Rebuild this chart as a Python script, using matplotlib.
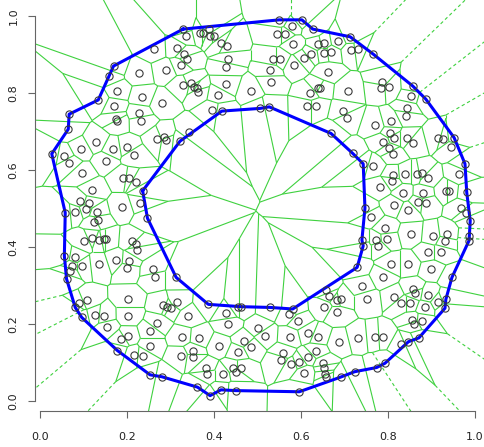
import numpy as np
import matplotlib
matplotlib.use("Agg")
import matplotlib.pyplot as plt
import matplotlib.tri as mtri
from matplotlib.collections import LineCollection

# Outer boundary points (blue polygon, closed)
outer_x = [0.329, 0.550, 0.602, 0.627, 0.713, 0.766, 0.857, 0.887, 0.952, 0.977,
           0.981, 0.989, 0.987, 0.986, 0.947, 0.933, 0.931, 0.871, 0.847, 0.793,
           0.774, 0.723, 0.691, 0.596, 0.450, 0.416, 0.391, 0.362, 0.280, 0.253,
           0.178, 0.096, 0.081, 0.061, 0.056, 0.058, 0.027, 0.065, 0.067, 0.134,
           0.169]
outer_y = [0.966, 0.990, 0.990, 0.966, 0.946, 0.901, 0.818, 0.784, 0.684, 0.616,
           0.542, 0.468, 0.429, 0.416, 0.321, 0.264, 0.241, 0.164, 0.154, 0.098,
           0.087, 0.076, 0.062, 0.024, 0.027, 0.029, 0.014, 0.036, 0.063, 0.068,
           0.131, 0.217, 0.243, 0.317, 0.377, 0.489, 0.642, 0.706, 0.745, 0.782,
           0.870]

# Inner boundary points (blue polygon, closed)
inner_x = [0.236, 0.247, 0.313, 0.387, 0.462, 0.529, 0.581, 0.729, 0.743, 0.740,
           0.747, 0.743, 0.719, 0.669, 0.527, 0.506, 0.418, 0.322]
inner_y = [0.546, 0.475, 0.321, 0.251, 0.245, 0.243, 0.239, 0.347, 0.403, 0.418,
           0.501, 0.616, 0.643, 0.695, 0.764, 0.760, 0.753, 0.675]

# Remaining points
pts_x = [0.159, 0.228, 0.178, 0.235, 0.171, 0.228, 0.175, 0.178, 0.232, 0.128,
         0.335, 0.368, 0.375, 0.388, 0.391, 0.400, 0.263, 0.314, 0.332, 0.337,
         0.416, 0.429, 0.433, 0.428, 0.323, 0.289, 0.329, 0.347, 0.355, 0.360,
         0.363, 0.427, 0.410, 0.485, 0.280, 0.396, 0.270, 0.286, 0.290, 0.343,
         0.580, 0.544, 0.563, 0.582, 0.638, 0.653, 0.685, 0.653, 0.669, 0.623,
         0.607, 0.715, 0.732, 0.535, 0.552, 0.585, 0.529, 0.661, 0.530, 0.640,
         0.644, 0.621, 0.707, 0.613, 0.634, 0.697, 0.706,
         0.786, 0.783, 0.803, 0.852, 0.844, 0.841, 0.807, 0.771, 0.805, 0.814,
         0.789, 0.843, 0.858, 0.914, 0.926,
         0.056, 0.067, 0.094, 0.167, 0.201, 0.215, 0.151, 0.096, 0.190, 0.205,
         0.221, 0.120, 0.092, 0.113, 0.105, 0.081, 0.130, 0.189, 0.230, 0.125,
         0.134, 0.102, 0.120, 0.136, 0.147, 0.152, 0.211, 0.221, 0.224, 0.081,
         0.073, 0.069, 0.097, 0.136, 0.174, 0.205, 0.201,
         0.259, 0.264,
         0.803, 0.944, 0.811, 0.766, 0.812, 0.810, 0.839, 0.866, 0.878, 0.891,
         0.964, 0.782, 0.835, 0.880, 0.933, 0.940, 0.814, 0.870, 0.887, 0.847,
         0.760, 0.967, 0.979, 0.793, 0.853, 0.903, 0.935, 0.931, 0.772, 0.797,
         0.778, 0.891, 0.922, 0.807, 0.847, 0.900, 0.788,
         0.090, 0.109, 0.126, 0.147, 0.155, 0.203, 0.203, 0.186, 0.202, 0.215,
         0.236,
         0.282, 0.293, 0.301, 0.314, 0.428, 0.433, 0.341, 0.270, 0.253, 0.326,
         0.366, 0.253, 0.412, 0.469, 0.485, 0.455, 0.352, 0.352, 0.324, 0.381,
         0.383, 0.420, 0.444, 0.461, 0.451, 0.455,
         0.740, 0.658, 0.665, 0.682, 0.692, 0.653, 0.682, 0.573, 0.594, 0.502,
         0.517, 0.575, 0.615, 0.640, 0.687, 0.732, 0.635, 0.559, 0.553, 0.615,
         0.596, 0.577, 0.651, 0.653, 0.608, 0.655, 0.658,
         0.752, 0.858, 0.862, 0.893, 0.814, 0.830, 0.851, 0.885, 0.916, 0.856,
         0.860, 0.879, 0.770, 0.788, 0.829]
pts_y = [0.845, 0.851, 0.805, 0.790, 0.766, 0.747, 0.732, 0.727, 0.728, 0.672,
         0.948, 0.955, 0.955, 0.966, 0.949, 0.949, 0.914, 0.916, 0.901, 0.888,
         0.929, 0.923, 0.888, 0.868, 0.873, 0.860, 0.820, 0.827, 0.815, 0.812,
         0.803, 0.823, 0.795, 0.806, 0.774, 0.756, 0.681, 0.687, 0.678, 0.700,
         0.974, 0.953, 0.953, 0.927, 0.927, 0.930, 0.935, 0.905, 0.907, 0.901,
         0.890, 0.912, 0.914, 0.888, 0.888, 0.873, 0.860, 0.855, 0.828, 0.814,
         0.812, 0.799, 0.806, 0.766, 0.766, 0.753, 0.736,
         0.829, 0.814, 0.815, 0.793, 0.760, 0.741, 0.726, 0.717, 0.697, 0.682,
         0.674, 0.682, 0.671, 0.684, 0.681,
         0.637, 0.619, 0.655, 0.654, 0.659, 0.639, 0.624, 0.591, 0.580, 0.578,
         0.570, 0.548, 0.520, 0.514, 0.498, 0.491, 0.490, 0.503, 0.515, 0.466,
         0.470, 0.416, 0.423, 0.418, 0.420, 0.420, 0.416, 0.407, 0.392, 0.373,
         0.351, 0.338, 0.351, 0.355, 0.366, 0.364, 0.345,
         0.342, 0.321,
         0.656, 0.659, 0.642, 0.610, 0.587, 0.572, 0.589, 0.589, 0.591, 0.580,
         0.589, 0.555, 0.541, 0.540, 0.546, 0.546, 0.509, 0.516, 0.514, 0.496,
         0.479, 0.502, 0.489, 0.450, 0.433, 0.429, 0.433, 0.416, 0.418, 0.420,
         0.403, 0.386, 0.386, 0.356, 0.356, 0.343, 0.322,
         0.255, 0.262, 0.223, 0.221, 0.191, 0.264, 0.222, 0.160, 0.169, 0.120,
         0.118,
         0.249, 0.245, 0.241, 0.256, 0.228, 0.200, 0.221, 0.202, 0.182, 0.167,
         0.164, 0.144, 0.144, 0.157, 0.141, 0.127, 0.130, 0.113, 0.117, 0.085,
         0.070, 0.070, 0.087, 0.087, 0.075, 0.245,
         0.300, 0.288, 0.273, 0.262, 0.264, 0.245, 0.230, 0.225, 0.208, 0.190,
         0.170, 0.167, 0.176, 0.167, 0.153, 0.163, 0.130, 0.124, 0.107, 0.113,
         0.101, 0.095, 0.098, 0.087, 0.074, 0.069, 0.063,
         0.264, 0.290, 0.280, 0.275, 0.271, 0.254, 0.254, 0.243, 0.258, 0.210,
         0.199, 0.208, 0.166, 0.167, 0.147]

x_ticks = [0.0, 0.2, 0.4, 0.6, 0.8, 1.0]
y_ticks = [0.0, 0.2, 0.4, 0.6, 0.8, 1.0]
tick_labels = ["0.0", "0.2", "0.4", "0.6", "0.8", "1.0"]

# ---- Voronoi from Delaunay ----
X = np.array(outer_x + inner_x + pts_x)
Y = np.array(outer_y + inner_y + pts_y)
tri = mtri.Triangulation(X, Y)
T = tri.triangles
N = tri.neighbors
P = np.column_stack([X, Y])
A, B, C = P[T[:, 0]], P[T[:, 1]], P[T[:, 2]]
d = 2 * (A[:, 0] * (B[:, 1] - C[:, 1]) + B[:, 0] * (C[:, 1] - A[:, 1]) + C[:, 0] * (A[:, 1] - B[:, 1]))
a2, b2, c2 = (A ** 2).sum(1), (B ** 2).sum(1), (C ** 2).sum(1)
ux = (a2 * (B[:, 1] - C[:, 1]) + b2 * (C[:, 1] - A[:, 1]) + c2 * (A[:, 1] - B[:, 1])) / d
uy = (a2 * (C[:, 0] - B[:, 0]) + b2 * (A[:, 0] - C[:, 0]) + c2 * (B[:, 0] - A[:, 0])) / d
CC = np.column_stack([ux, uy])

solid, dashed = [], []
for t in range(len(T)):
    for j in range(3):
        nb = N[t, j]
        if nb > t:
            solid.append([CC[t], CC[nb]])
        elif nb == -1:
            a = P[T[t, j]]
            b = P[T[t, (j + 1) % 3]]
            c = P[T[t, (j + 2) % 3]]
            e = b - a
            n = np.array([e[1], -e[0]])
            if np.dot(n, c - a) > 0:
                n = -n
            n = n / np.hypot(*n)
            dashed.append([CC[t], CC[t] + 4 * n])

fig = plt.figure(figsize=(4.85, 4.47), dpi=100)
ax = fig.add_axes([35 / 485, 36 / 447, 450 / 485, 411 / 447])
ax.set_xlim(-5 / 435, 445 / 435)
ax.set_ylim(-10 / 385, 401 / 385)

green = "#3fd13f"
ax.add_collection(LineCollection(solid, colors=green, linewidths=0.8, zorder=1))
ax.add_collection(LineCollection(dashed, colors=green, linewidths=0.8,
                                 linestyles=(0, (3, 2.5)), zorder=1))

ox = outer_x + outer_x[:1]
oy = outer_y + outer_y[:1]
ix = inner_x + inner_x[:1]
iy = inner_y + inner_y[:1]
ax.plot(ox, oy, color="#0000ff", lw=2.2, zorder=2, solid_joinstyle="round")
ax.plot(ix, iy, color="#0000ff", lw=2.2, zorder=2, solid_joinstyle="round")

ax.plot(X, Y, linestyle="none", marker="o", markersize=5.2, markerfacecolor="none",
        markeredgecolor="#3a3a3a", markeredgewidth=0.8, zorder=3)

for s in ["top", "right"]:
    ax.spines[s].set_visible(False)
for s in ["left", "bottom"]:
    ax.spines[s].set_color("#666666")
    ax.spines[s].set_linewidth(0.8)
ax.spines["left"].set_bounds(0, 1)
ax.spines["bottom"].set_bounds(0, 1)
ax.set_xticks(x_ticks)
ax.set_xticklabels(tick_labels)
ax.set_yticks(y_ticks)
ax.set_yticklabels(tick_labels, rotation=90, va="center")
ax.tick_params(axis="both", length=5, width=0.8, color="#666666", labelsize=8,
               labelcolor="#222222")
ax.tick_params(axis="x", pad=10)
ax.tick_params(axis="y", pad=7)
ax.set_facecolor("white")

fig.savefig("out.png", dpi=100)
